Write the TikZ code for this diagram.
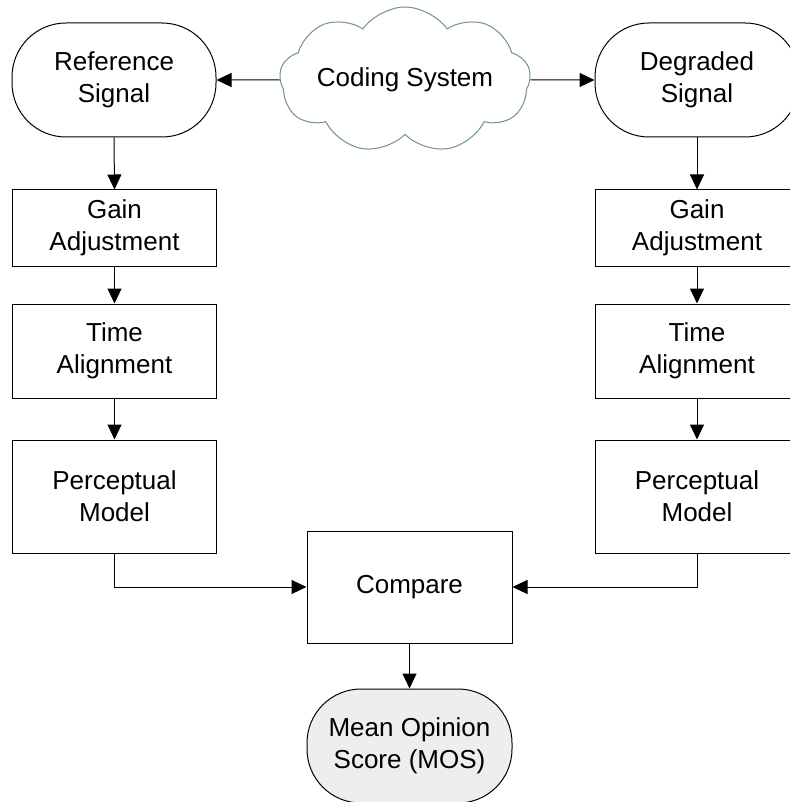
\documentclass[tikz,border=0pt]{standalone}
\usepackage{fontspec}
\setmainfont{Liberation Sans}
\usetikzlibrary{arrows.meta,shapes.symbols}
\definecolor{ink}{HTML}{000000}
\definecolor{cloudline}{HTML}{6E9199}
\definecolor{shade}{HTML}{EEEEEE}
\tikzset{arr/.style={-{Triangle[length=15pt,width=14pt]},line width=1pt,ink},
blk/.style={draw=ink,line width=1pt,align=center,inner sep=0pt,
  minimum width=204pt,font=\fontsize{26}{32}\selectfont},
term/.style={blk,rounded corners=54pt,minimum height=114pt},
lab/.style={font=\fontsize{26}{32}\selectfont,align=center}}

\begin{document}
\begin{tikzpicture}[x=1pt,y=-1pt]
\useasboundingbox (0,0) rectangle (790,802);
\begin{scope}
\clip (0,0) rectangle (790,802);
% sources
\node[term] (ref) at (114,80) {Reference\\Signal};
\node[term] (deg) at (697,80) {Degraded\\Signal};
\node[cloud,cloud puffs=9,cloud puff arc=110,cloud ignores aspect,
  draw=cloudline,line width=1pt,minimum width=248pt,minimum height=146pt,
  lab] (cod) at (405,80) {Coding System};
% the two processing chains
\foreach \x/\s in {114.5/L,697/R}{
  \node[blk,minimum height=76pt] (gain\s) at (\x,228) {Gain\\Adjustment};
  \node[blk,minimum height=94pt] (time\s) at (\x,351) {Time\\Alignment};
  \node[blk,minimum height=113pt] (perc\s) at (\x,496.5) {Perceptual\\Model};
  \draw[arr] (gain\s) -- (time\s);
  \draw[arr] (time\s) -- (perc\s);
}
\node[blk,minimum width=205pt,minimum height=112pt] (cmp) at (409.5,587) {Compare};
\node[term,fill=shade,minimum width=205pt] (mos) at (409.5,746) {Mean Opinion\\Score (MOS)};
% connectors
\draw[arr] (cod) -- (ref);
\draw[arr] (cod) -- (deg);
\draw[arr] (ref.south) -- (gainL.north);
\draw[arr] (deg.south) -- (gainR.north);
\draw[arr] (percL.south) |- (cmp.west);
\draw[arr] (percR.south) |- (cmp.east);
\draw[arr] (cmp) -- (mos);
\end{scope}
\end{tikzpicture}
\end{document}
